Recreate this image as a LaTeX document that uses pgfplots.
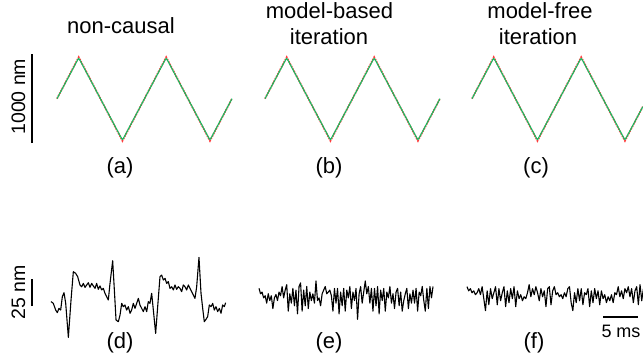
\documentclass[border=0pt]{standalone}
\usepackage{fontspec}
\setmainfont{Liberation Sans}
\usepackage{pgfplots}
\usepackage{pgfplotstable}
\pgfplotsset{compat=1.18}
\definecolor{refred}{RGB}{255,60,60}
\definecolor{trkgreen}{RGB}{20,190,100}

\pgfplotstableread{
t y
0 4
3.1 470
9.35 -470
15.6 470
21.85 -470
25 4
}\refA
\pgfplotstableread{
t y
0 4
2.95 440
3.1 455
3.25 440
9.2 -440
9.35 -455
9.5 -440
15.45 440
15.6 455
15.75 440
21.7 -440
21.85 -455
22.0 -440
25 4
}\trkA
\pgfplotstableread{
t y
0 4
3.1 470
9.35 -470
15.6 470
21.85 -470
24.4 -87
}\refC
\pgfplotstableread{
t y
0 4
2.95 440
3.1 455
3.25 440
9.2 -440
9.35 -455
9.5 -440
15.45 440
15.6 455
15.75 440
21.7 -440
21.85 -455
22.0 -440
24.4 -87
}\trkC

\pgfplotstableread{
t y
0 -1.5
0.33 -3.1
0.67 -9.3
0.90 -11.7
1.14 -7.7
1.38 -9.3
1.62 3.1
1.86 6.8
2.10 -3.1
2.48 -34.6
2.86 0
3.19 26.2
3.52 24.7
3.81 21.6
4.14 13.9
4.38 12.3
4.62 15.4
4.86 11.7
5.10 13.9
5.33 16.0
5.57 11.7
5.81 15.4
6.05 13.0
6.29 10.8
6.52 15.4
6.76 9.9
7.00 13.0
7.24 9.3
7.48 10.8
7.71 6.2
7.95 3.1
8.19 0
8.43 15.4
8.81 36.4
9.05 9.3
9.29 -18.5
9.62 -20.1
9.86 -13.9
10.10 -3.1
10.33 -6.2
10.57 -4.6
10.81 -9.3
11.05 -6.2
11.29 -12.3
11.52 -9.3
11.76 -3.1
12.00 -7.7
12.24 -3.1
12.48 1.5
12.71 -4.6
12.95 -7.7
13.19 -10.8
13.43 -6.2
13.67 -10.8
13.90 -1.5
14.14 -3.1
14.38 6.2
14.62 -9.3
14.95 -30.9
15.24 -6.2
15.57 21.6
15.81 23.1
16.05 18.5
16.29 20.1
16.52 15.4
16.76 17.0
17.00 10.8
17.24 12.3
17.48 9.3
17.71 13.9
17.95 9.9
18.19 12.3
18.43 10.8
18.67 7.7
18.90 13.9
19.14 12.3
19.38 9.3
19.62 13.9
19.86 10.8
20.10 7.7
20.33 4.6
20.57 1.5
20.81 12.3
21.14 39.5
21.43 6.2
21.67 -7.7
21.90 -20.1
22.14 -17.9
22.38 -15.4
22.62 -4.6
22.86 -6.2
23.10 -3.1
23.33 -9.3
23.57 -6.2
23.81 -10.8
24.05 -7.7
24.29 -12.3
24.52 -4.6
24.76 -6.2
24.95 -2.5
}\errD

\pgfplotstableread{
t y
0 7.8
0.22 2.8
0.44 4.4
0.66 -1.0
0.88 1.0
1.1 -5.9
1.32 2.8
1.54 -3.5
1.76 1.0
1.98 -10.9
2.2 -1.0
2.42 2.1
2.64 -3.5
2.86 4.4
3.08 1.0
3.3 9.5
3.52 -1.0
3.74 6.2
3.96 11.2
4.18 -13.3
4.4 2.8
4.62 -5.9
4.84 7.8
5.06 -8.3
5.28 6.2
5.5 -15.8
5.72 9.5
5.94 12.9
6.16 -13.3
6.38 6.2
6.6 -8.3
6.82 9.5
7.04 -10.9
7.26 4.4
7.48 -3.5
7.7 2.8
7.92 -5.9
8.14 14.6
8.36 -3.5
8.58 -1.0
8.8 -8.3
9.02 2.8
9.24 6.2
9.46 9.5
9.68 2.8
9.9 4.4
10.12 6.2
10.34 1.0
10.56 -13.3
10.78 7.8
11 -5.9
11.22 7.8
11.44 -15.8
11.66 4.4
11.88 -8.3
12.1 7.8
12.32 -13.3
12.54 6.2
12.76 -1.0
12.98 9.5
13.2 -10.9
13.42 4.4
13.64 -3.5
13.86 7.8
14.08 -20.8
14.3 2.8
14.52 9.5
14.74 -5.9
14.96 4.4
15.18 14.6
15.4 2.8
15.62 9.5
15.84 -5.9
16.06 7.8
16.28 -13.3
16.5 7.8
16.72 -8.3
16.94 9.5
17.16 -15.8
17.38 6.2
17.6 -3.5
17.82 7.8
18.04 -13.3
18.26 4.4
18.48 -1.0
18.7 9.5
18.92 -5.9
19.14 2.8
19.36 -10.9
19.58 4.4
19.8 7.8
20.02 -8.3
20.24 4.4
20.46 -13.3
20.68 -3.5
20.9 2.8
21.12 7.8
21.34 -10.9
21.56 2.8
21.78 -5.9
22 6.2
22.22 -5.9
22.44 7.8
22.66 -13.3
22.88 4.4
23.1 1.0
23.32 9.5
23.54 -3.5
23.76 -13.3
23.98 7.8
24.2 -10.9
24.42 9.5
24.64 -1.0
24.86 9.5
}\errE

\pgfplotstableread{
t y
0 10.0
0.24 6.2
0.48 8.2
0.72 4.4
0.96 6.2
1.2 2.6
1.44 4.4
1.68 8.2
1.92 2.6
2.16 10.0
2.4 -1.1
2.64 -12.2
2.88 6.2
3.12 -6.7
3.36 8.2
3.6 -1.1
3.84 4.4
4.08 10.0
4.32 -6.7
4.56 8.2
4.8 -3.0
5.04 4.4
5.28 10.0
5.52 -8.5
5.76 6.2
6 -4.8
6.24 8.2
6.48 -1.1
6.72 10.0
6.96 -8.5
7.2 6.2
7.44 -1.1
7.68 2.6
7.92 -3.0
8.16 0.7
8.4 -1.1
8.64 4.4
8.88 11.9
9.12 0.7
9.36 8.2
9.6 2.6
9.84 10.0
10.08 4.4
10.32 -3.0
10.56 8.2
10.8 0.7
11.04 6.2
11.28 -8.5
11.52 8.2
11.76 10.0
12 -6.7
12.24 6.2
12.48 10.0
12.72 2.6
12.96 4.4
13.2 0.7
13.44 2.6
13.68 -1.1
13.92 4.4
14.16 0.7
14.4 8.2
14.64 10.0
14.88 -4.8
15.12 -12.2
15.36 4.4
15.6 -4.8
15.84 8.2
16.08 -3.0
16.32 8.2
16.56 -6.7
16.8 4.4
17.04 2.6
17.28 8.2
17.52 -8.5
17.76 6.2
18 -4.8
18.24 8.2
18.48 -1.1
18.72 6.2
18.96 -6.7
19.2 6.2
19.44 -1.1
19.68 2.6
19.92 -4.8
20.16 0.7
20.4 -3.0
20.64 2.6
20.88 -4.8
21.12 4.4
21.36 2.6
21.6 10.0
21.84 0.7
22.08 6.2
22.32 -1.1
22.56 8.2
22.8 4.4
23.04 10.0
23.28 0.7
23.52 8.2
23.76 -4.8
24 6.2
24.24 10.0
24.48 -6.7
24.72 11.9
24.96 -3.0
25.2 8.2
}\errF

\begin{document}
\begin{tikzpicture}
\path[use as bounding box] (0pt,0pt) rectangle (643pt,362pt);
\pgfplotsset{panel/.style={hide axis, scale only axis, clip=false,
  anchor=south west, x=7pt, xmin=0, xmax=25}}
\pgfplotsset{top/.style={panel, y=0.089pt, ymin=-500, ymax=500}}
\pgfplotsset{bot/.style={panel, y=1.08pt, ymin=-40, ymax=40}}
% ---- top row
\begin{axis}[top, at={(57pt,218.5pt)}]
\addplot[refred, densely dotted, line width=1.7pt] table {\refA};
\addplot[trkgreen, line width=1.1pt, line join=round] table {\trkA};
\addplot[black, line width=2pt] coordinates {(-3.57,-495) (-3.57,505)};
\end{axis}
\begin{axis}[top, at={(265pt,218.5pt)}]
\addplot[refred, densely dotted, line width=1.7pt] table {\refA};
\addplot[trkgreen, line width=1.1pt, line join=round] table {\trkA};
\end{axis}
\begin{axis}[top, at={(472pt,218.5pt)}]
\addplot[refred, densely dotted, line width=1.7pt] table {\refC};
\addplot[trkgreen, line width=1.1pt, line join=round] table {\trkC};
\end{axis}
% ---- bottom row
\begin{axis}[bot, at={(51pt,18.8pt)}]
\addplot[black, line width=1.1pt, line join=round] table {\errD};
\addplot[black, line width=2pt] coordinates {(-2.71,-5.6) (-2.71,19.4)};
\end{axis}
\begin{axis}[bot, at={(259pt,22pt)}]
\addplot[black, line width=1.1pt, line join=round] table {\errE};
\end{axis}
\begin{axis}[bot, at={(467pt,21.3pt)}]
\addplot[black, line width=1.1pt, line join=round] table {\errF};
\addplot[black, line width=2pt] coordinates {(19.43,-18.1) (24.43,-18.1)};
\end{axis}
% ---- text
\tikzset{big/.style={anchor=base, font=\fontsize{22pt}{26pt}\selectfont, inner sep=0pt}}
\node[big] at (121pt,328.7pt) {non-causal};
\node[big] at (329.5pt,343.7pt) {model-based};
\node[big] at (329pt,317pt) {iteration};
\node[big] at (540pt,343.7pt) {model-free};
\node[big] at (538pt,317pt) {iteration};
\node[big] at (120pt,188.5pt) {(a)};
\node[big] at (329pt,188.5pt) {(b)};
\node[big] at (536pt,188.5pt) {(c)};
\node[big] at (120pt,14pt) {(d)};
\node[big] at (329pt,14pt) {(e)};
\node[big] at (534pt,14pt) {(f)};
\node[anchor=base, inner sep=0pt, rotate=90, font=\fontsize{19.5pt}{23pt}\selectfont] at (25pt,265.3pt) {1000 nm};
\node[anchor=base, inner sep=0pt, rotate=90, font=\fontsize{19.5pt}{23pt}\selectfont] at (25pt,70pt) {25 nm};
\node[anchor=base, inner sep=0pt, font=\fontsize{18pt}{22pt}\selectfont] at (621pt,24.7pt) {5 ms};
\end{tikzpicture}
\end{document}
